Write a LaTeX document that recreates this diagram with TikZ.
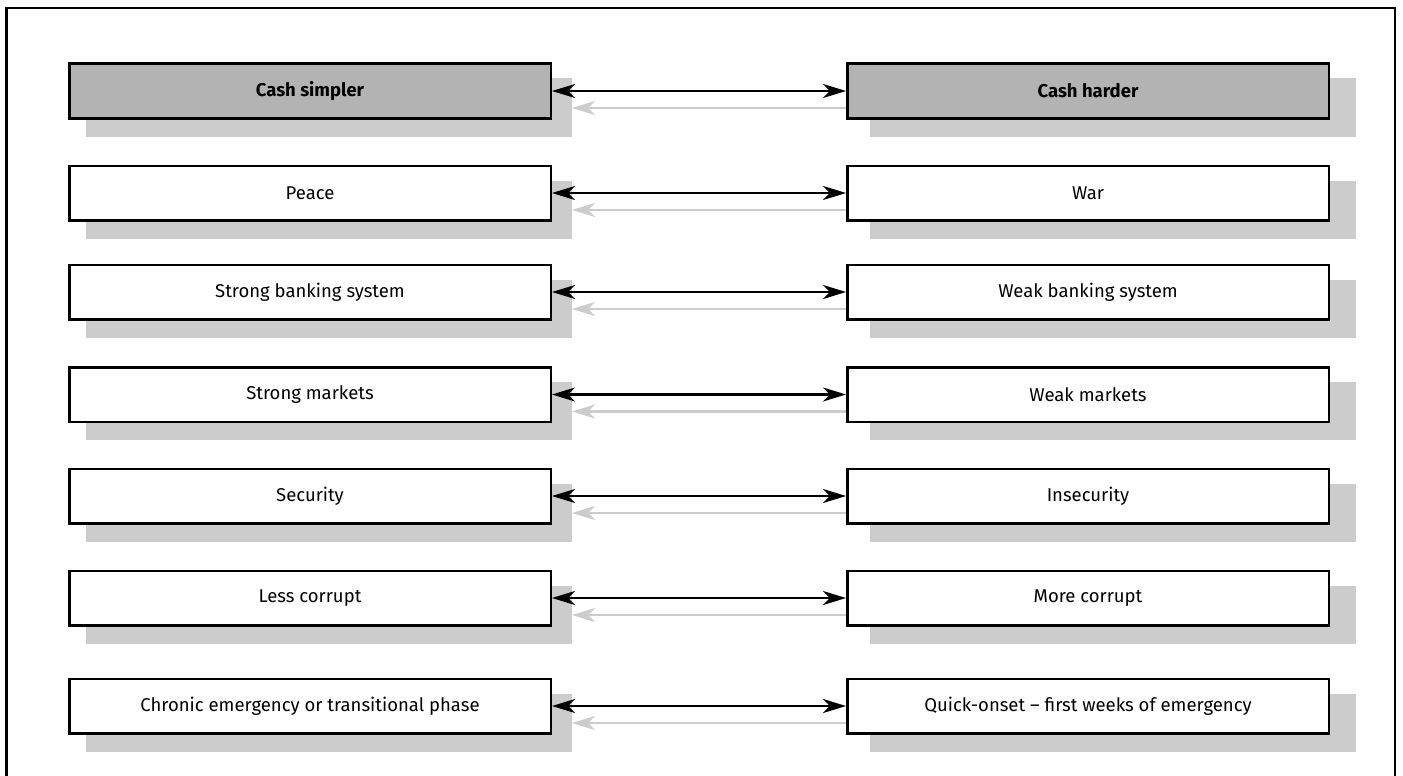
\documentclass[tikz,border=0pt]{standalone}
\usepackage{fontspec}
\setmainfont{Fira Sans}
\usetikzlibrary{arrows.meta}
\definecolor{shadowgray}{HTML}{CCCCCC}
\definecolor{headgray}{HTML}{B3B3B3}
\tikzset{
  cellbox/.style={draw=black, line width=2.5pt, minimum width=481.5pt, minimum height=54.5pt,
    inner sep=0pt, fill=white, font=\fontsize{18.5}{22}\selectfont},
  headbox/.style={cellbox, fill=headgray, font=\fontsize{18.5}{22}\selectfont\bfseries},
  tip/.style={Stealth[length=23pt,width=14pt,inset=7pt]},
  blackarrow/.style={line width=2.5pt, black, {Stealth[length=23pt,width=14pt,inset=7pt]}-{Stealth[length=23pt,width=14pt,inset=7pt]}},
  grayarrow/.style={line width=2.5pt, shadowgray, {Stealth[length=23pt,width=14pt,inset=7pt]}-{Stealth[length=23pt,width=14pt,inset=7pt]}},
}
\begin{document}
\begin{tikzpicture}[x=1pt,y=-1pt]
\useasboundingbox (0,0) rectangle (1403,776);
\fill[white] (0,0) rectangle (1403,776);
\draw[line width=2.5pt] (6.5,790) -- (6.5,8) -- (1395,8) -- (1395,790);
% nodes
\foreach \i/\yy/\l/\r/\s in {
  1/91/Cash simpler/Cash harder/headbox,
  2/193/Peace/War/cellbox,
  3/292/Strong banking system/Weak banking system/cellbox,
  4/394.5/Strong markets/Weak markets/cellbox,
  5/496/Security/Insecurity/cellbox,
  6/598/Less corrupt/More corrupt/cellbox,
  7/706/Chronic emergency or transitional phase/Quick-onset – first weeks of emergency/cellbox}{
  \path (310,\yy) node[cellbox, draw=none, fill=none] (L\i) {}
        (1088,\yy) node[cellbox, draw=none, fill=none] (R\i) {};
  \fill[shadowgray] ([xshift=18pt,yshift=-16pt]L\i.north west) rectangle ([xshift=20pt,yshift=-17pt]L\i.south east);
  \fill[shadowgray] ([xshift=24pt,yshift=-16pt]R\i.north west) rectangle ([xshift=26pt,yshift=-17pt]R\i.south east);
  \draw[grayarrow] ([xshift=20pt,yshift=-17pt]L\i.east) -- ([xshift=24pt,yshift=-17pt]R\i.west);
  \node[\s] (LB\i) at (L\i) {\l};
  \node[\s] (RB\i) at (R\i) {\r};
  \draw[blackarrow] (LB\i.east) -- (RB\i.west);
}
\end{tikzpicture}
\end{document}
